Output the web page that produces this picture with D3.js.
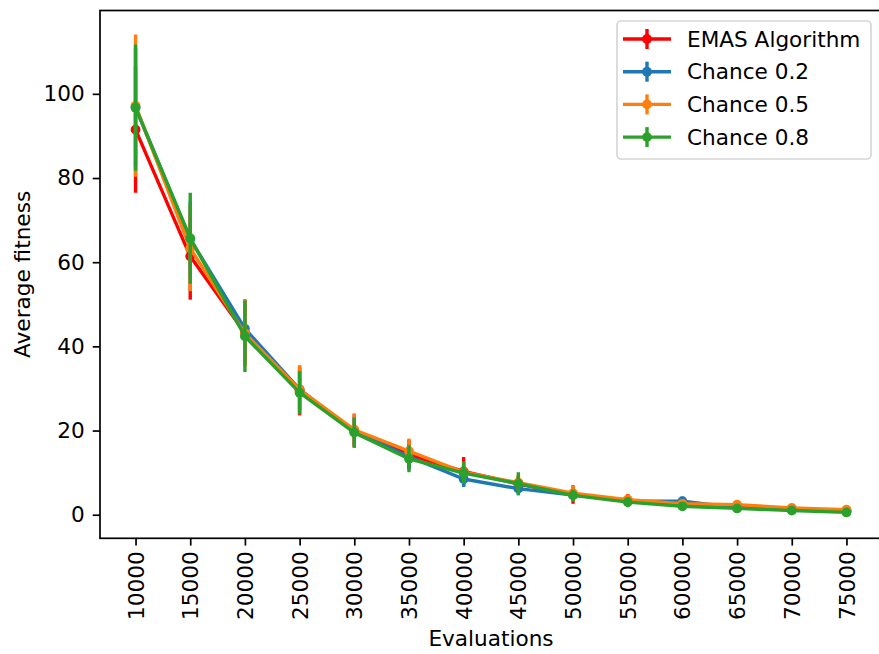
<!DOCTYPE html>
<html>
<head>
<meta charset="utf-8">
<script src="https://cdn.jsdelivr.net/npm/d3@7"></script>
<style>
  html, body { margin: 0; padding: 0; background: #fff; }
  svg { display: block; }
  text { font-family: "DejaVu Sans", sans-serif; fill: #000; }
</style>
</head>
<body>
<svg id="chart" width="879" height="654"></svg>
<script>
// Evaluation checkpoints (x categories)
const evaluations = ["10000", "15000", "20000", "25000", "30000", "35000", "40000",
                     "45000", "50000", "55000", "60000", "65000", "70000", "75000"];

// Mean fitness and standard deviation per series
const emasMean   = [91.5, 61.4, 43.2, 29.5, 20.0, 14.3, 10.3, 7.3, 4.8, 3.4, 2.4, 1.9, 1.4, 0.9];
const emasErr    = [15.0, 10.3, 7.8, 5.9, 4.0, 3.5, 3.4, 2.0, 2.2, 1.5, 1.2, 0.9, 0.6, 0.5];
const chance2Mean = [96.8, 65.5, 44.2, 29.8, 19.8, 13.8, 8.5, 6.2, 4.7, 3.3, 3.2, 1.7, 1.2, 0.8];
const chance2Err  = [14.0, 9.0, 7.0, 5.0, 3.5, 3.0, 1.9, 1.6, 1.2, 1.0, 1.1, 0.6, 0.4, 0.3];
const chance5Mean = [97.2, 63.3, 43.1, 29.7, 20.2, 15.1, 10.1, 7.6, 5.1, 3.6, 2.6, 2.4, 1.6, 1.2];
const chance5Err  = [16.9, 10.2, 8.0, 5.8, 3.8, 3.0, 2.5, 1.8, 1.9, 1.2, 0.9, 0.8, 0.5, 0.4];
const chance8Mean = [96.7, 65.7, 42.4, 29.0, 19.5, 13.3, 9.9, 7.4, 4.6, 3.0, 2.0, 1.5, 1.0, 0.55];
const chance8Err  = [15.0, 10.8, 8.5, 5.1, 3.6, 3.2, 2.6, 2.7, 1.4, 1.2, 0.8, 0.6, 0.5, 0.45];

const seriesNames  = ["EMAS Algorithm", "Chance 0.2", "Chance 0.5", "Chance 0.8"];
const seriesColors = ["#ff0000", "#1f77b4", "#ff7f0e", "#2ca02c"];
const yTicks = [0, 20, 40, 60, 80, 100];

const series = [
  { name: seriesNames[0], color: seriesColors[0], mean: emasMean, err: emasErr },
  { name: seriesNames[1], color: seriesColors[1], mean: chance2Mean, err: chance2Err },
  { name: seriesNames[2], color: seriesColors[2], mean: chance5Mean, err: chance5Err },
  { name: seriesNames[3], color: seriesColors[3], mean: chance8Mean, err: chance8Err }
];

const svg = d3.select("#chart");
const FS = 21.6;
const LW = 3.4;
const plot = { left: 100, right: 882, top: 10.5, bottom: 538.3 };

// x: category index with 5% margins on each side
const n = evaluations.length;
const xPad = 0.05 * (n - 1);
const x = d3.scaleLinear().domain([-xPad, n - 1 + xPad]).range([plot.left, plot.right]);

// y: data extent including error bars, plus 5% margins
let lo = Infinity, hi = -Infinity;
series.forEach(s => s.mean.forEach((m, i) => {
  lo = Math.min(lo, m - s.err[i]);
  hi = Math.max(hi, m + s.err[i]);
}));
const yPad = 0.05 * (hi - lo);
const y = d3.scaleLinear().domain([lo - yPad, hi + yPad]).range([plot.bottom, plot.top]);

const clipId = "plotclip";
svg.append("clipPath").attr("id", clipId).append("rect")
  .attr("x", plot.left).attr("y", plot.top)
  .attr("width", plot.right - plot.left).attr("height", plot.bottom - plot.top);

const marks = svg.append("g").attr("clip-path", `url(#${clipId})`);

series.forEach(s => {
  const g = marks.append("g");
  // error bars
  g.selectAll("line.err").data(s.mean).join("line")
    .attr("x1", (d, i) => x(i)).attr("x2", (d, i) => x(i))
    .attr("y1", (d, i) => y(d - s.err[i])).attr("y2", (d, i) => y(d + s.err[i]))
    .attr("stroke", s.color).attr("stroke-width", LW);
  // mean line
  g.append("path")
    .datum(s.mean)
    .attr("fill", "none").attr("stroke", s.color).attr("stroke-width", LW)
    .attr("stroke-linejoin", "round")
    .attr("d", d3.line().x((d, i) => x(i)).y(d => y(d)));
  // markers
  g.selectAll("circle").data(s.mean).join("circle")
    .attr("cx", (d, i) => x(i)).attr("cy", d => y(d)).attr("r", 4.9)
    .attr("fill", s.color);
});

// axes
const xAxis = d3.axisBottom(x).tickValues(d3.range(n)).tickFormat(i => evaluations[i])
  .tickSizeInner(7.3).tickSizeOuter(0).tickPadding(7);
const gx = svg.append("g").attr("transform", `translate(0,${plot.bottom})`).call(xAxis);
gx.select(".domain").remove();
gx.selectAll(".tick line").attr("stroke", "#000").attr("stroke-width", 1.7);
gx.selectAll(".tick text")
  .attr("font-size", FS).attr("font-family", "DejaVu Sans")
  .attr("text-anchor", "end").attr("dy", "0.35em")
  .attr("transform", "translate(0,13) rotate(-90)")
  .attr("x", 0).attr("y", 0);

const yAxis = d3.axisLeft(y).tickValues(yTicks).tickSizeInner(7.3).tickSizeOuter(0).tickPadding(8);
const gy = svg.append("g").attr("transform", `translate(${plot.left},0)`).call(yAxis);
gy.select(".domain").remove();
gy.selectAll(".tick line").attr("stroke", "#000").attr("stroke-width", 1.7);
gy.selectAll(".tick text").attr("font-size", FS).attr("font-family", "DejaVu Sans");

// frame
svg.append("rect")
  .attr("x", plot.left).attr("y", plot.top)
  .attr("width", plot.right - plot.left).attr("height", plot.bottom - plot.top)
  .attr("fill", "none").attr("stroke", "#000").attr("stroke-width", 1.7);

// axis labels
svg.append("text")
  .attr("x", (plot.left + plot.right) / 2).attr("y", 646)
  .attr("text-anchor", "middle").attr("font-size", FS)
  .text("Evaluations");
svg.append("text")
  .attr("transform", `translate(30,${(plot.top + plot.bottom) / 2}) rotate(-90)`)
  .attr("text-anchor", "middle").attr("font-size", FS)
  .text("Average fitness");

// legend
const legend = svg.append("g");
legend.append("rect")
  .attr("x", 617).attr("y", 21).attr("width", 254).attr("height", 138)
  .attr("rx", 4).attr("fill", "#fff").attr("fill-opacity", 0.8)
  .attr("stroke", "#d6d6d6").attr("stroke-width", 1.7);
series.forEach((s, i) => {
  const cy = 39 + i * 32.7;
  const row = legend.append("g");
  row.append("line").attr("x1", 623).attr("x2", 671).attr("y1", cy).attr("y2", cy)
    .attr("stroke", s.color).attr("stroke-width", LW);
  row.append("line").attr("x1", 647).attr("x2", 647).attr("y1", cy - 10).attr("y2", cy + 10)
    .attr("stroke", s.color).attr("stroke-width", LW);
  row.append("circle").attr("cx", 647).attr("cy", cy).attr("r", 4.9).attr("fill", s.color);
  row.append("text").attr("x", 687).attr("y", cy).attr("dy", "0.36em")
    .attr("font-size", FS).text(s.name);
});
</script>
</body>
</html>
